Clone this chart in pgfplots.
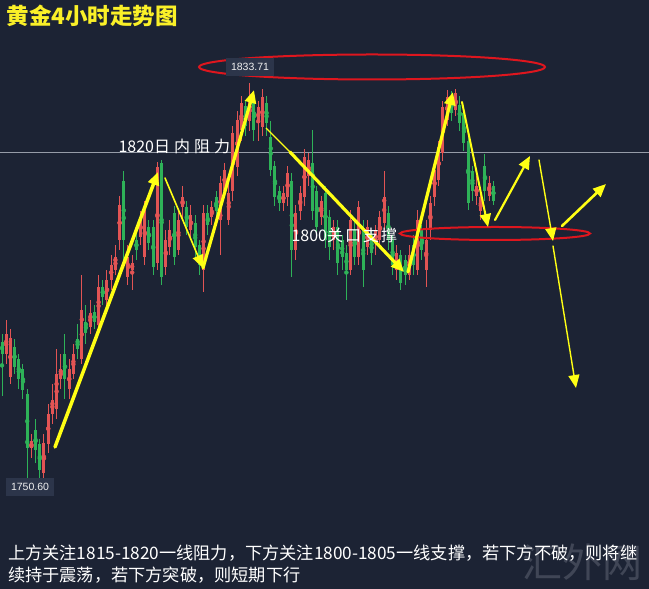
\documentclass[border=0pt]{standalone}
\usepackage{fontspec}
\setmainfont{Noto Sans CJK SC}
\newfontfamily\latin{Liberation Sans}
\usepackage{pgfplots}
\usepackage{pgfplotstable}
\pgfplotsset{compat=1.18}
\usetikzlibrary{arrows.meta}

\definecolor{bg}{RGB}{28,35,52}
\definecolor{upc}{RGB}{226,84,84}
\definecolor{dnc}{RGB}{46,178,88}
\definecolor{ylw}{RGB}{255,255,20}
\definecolor{ttl}{RGB}{250,240,40}
\definecolor{ring}{RGB}{222,22,30}
\definecolor{hline}{RGB}{150,156,168}
\definecolor{lbl}{RGB}{44,53,74}
\definecolor{wm}{RGB}{64,70,86}

% 4h candles: index, open, high, low, close
\pgfplotstableread{
i o h l c
0 1781.5 1783 1770.5 1779
1 1779 1786 1777 1783
2 1774.5 1784 1773 1782.3
3 1780.5 1782 1775 1776.5
4 1778 1779 1772 1774
5 1776 1777 1770 1771.8
6 1771 1772 1750.6 1760
7 1760 1763 1758 1761.5
8 1763.7 1766 1757 1759.7
9 1761 1762 1754 1755.6
10 1755 1763 1753.6 1761
11 1761 1769 1759 1767
12 1767 1773 1765 1769.8
13 1768 1780 1766 1775
14 1774 1779 1772 1776
15 1779 1783 1770 1774
16 1772 1778 1770 1776
17 1775 1781 1774 1779
18 1782 1785 1778 1780
19 1778 1795 1777 1788
20 1785.5 1789 1781 1783.2
21 1784.5 1790 1783 1787.3
22 1787.5 1789 1784 1785.5
23 1785 1795 1784 1792.5
24 1792.5 1794 1789 1790.5
25 1790 1796 1788 1794
26 1794 1799 1792 1797
27 1796 1801 1795 1798.6
28 1802 1811 1800 1809
29 1814 1816 1797 1802
30 1794.6 1801 1793 1798.6
31 1796 1799 1792 1797.4
32 1802 1804 1798 1800
33 1802.6 1808 1801 1806.7
34 1798.6 1810 1797 1808
35 1804.7 1806 1800 1801.4
36 1804.7 1806 1795 1796.6
37 1797.4 1817.8 1796 1816.8
38 1817.6 1818.2 1793 1794.6
39 1796.6 1804 1795 1802
40 1800.6 1806 1799 1804
41 1807.5 1809 1797 1798.6
42 1800 1808 1799 1806
43 1808.7 1813 1806 1810.7
44 1808.7 1810 1803 1804.7
45 1804 1809 1802 1807
46 1805.5 1807 1798 1800.6
47 1801 1802 1795 1797
48 1796 1809 1791.6 1807.5
49 1807.5 1809 1803 1805
50 1806.7 1810 1805 1808.7
51 1810.7 1812 1806 1808
52 1806 1815 1799 1813.5
53 1812 1817.5 1811 1816.2
54 1806 1814 1805 1811.5
55 1812 1825 1810 1823.6
56 1816.8 1828 1815 1826.2
57 1824.2 1831 1822 1829.7
58 1829 1830 1823 1825
59 1826 1833.71 1824 1830.3
60 1830.9 1832 1822 1824.2
61 1825.6 1830 1822 1828.9
62 1824.8 1832.5 1823 1830.9
63 1829.7 1831 1823 1825.6
64 1822.8 1826 1815 1816.2
65 1817 1818 1809 1810.7
66 1812 1813 1808 1809.5
67 1809.5 1813 1808 1811.5
68 1810.7 1817 1809 1815.5
69 1814 1815.5 1794.5 1800
70 1800 1809 1798 1807.5
71 1808 1813 1806 1811.5
72 1810.7 1820.5 1809 1818.8
73 1815 1819.5 1813 1818.2
74 1817.6 1824.2 1806 1808
75 1812 1813 1803 1804.7
76 1806.7 1811 1805 1810
77 1811.5 1813 1800.5 1802
78 1806.7 1808 1798 1800.6
79 1802 1806 1800 1804.7
80 1804.7 1806 1795 1797.4
81 1802 1803 1796 1798.6
82 1799.4 1801 1790 1796
83 1796 1808 1795 1806
84 1804 1806 1797 1798.6
85 1798.6 1810 1797 1808.7
86 1804 1806 1792.6 1796
87 1800.6 1806 1799 1804.7
88 1803 1804 1797 1799.4
89 1801.4 1805 1799 1804
90 1802 1808 1801 1806.7
91 1805.5 1816 1804 1810.7
92 1807.5 1809 1800 1802
93 1802 1803 1795 1797
94 1795.9 1801 1794 1799.4
95 1799 1800 1792 1793.4
96 1798 1799 1793 1795
97 1795 1801 1794 1799
98 1801 1803 1795 1797
99 1796 1808 1795 1806
100 1804 1805 1798 1800
101 1796 1806 1792.6 1802
102 1804 1811 1802 1809.5
103 1810.7 1818 1809 1816.2
104 1814.1 1822 1813 1820.8
105 1819.6 1830 1818 1828.9
106 1826.2 1832.3 1825 1830.9
107 1831 1832 1826 1827.7
108 1828.3 1832.5 1827 1831.7
109 1829.3 1831 1824 1825.6
110 1827.6 1828 1820 1821.6
111 1822 1824 1808 1809.5
112 1816 1817 1810 1812
113 1811 1815 1809 1813
114 1808 1812 1806 1810.7
115 1817 1819.4 1810 1812
116 1811 1815 1810 1813.5
117 1813 1814 1809 1810
}\candles

\tikzset{
  ya/.style={draw=ylw, line width=#1, line cap=round,
    -{Triangle[length=13pt,width=11pt]}},
  lab/.style={text=white, font=\fontsize{16}{16}\selectfont},
  pricebox/.style={fill=lbl, text=white!88!gray,
    font=\latin\fontsize{10.5}{11}\selectfont, inner xsep=5pt, inner ysep=5pt},
}
\pgfplotsset{
  candle/.style 2 args={#1, mark=none, only marks, forget plot,
    error bars/.cd, y dir=both, y explicit, error mark=none,
    error bar style={draw=#1, line width=#2}},
}

\begin{document}
\begin{tikzpicture}
\fill[bg] (0,0) rectangle (649pt,589pt);
\begin{axis}[
  at={(0,0)}, anchor=south west,
  width=649pt, height=589pt, scale only axis,
  hide axis, clip=true,
  xmin=-0.476, xmax=154.05,
  ymin=1731.65, ymax=1850.45,
]
  \draw[hline, line width=0.9pt] (axis cs:-1,1819.6) -- (axis cs:160,1819.6);
  % wicks
  \addplot[candle={upc}{1pt}]
    table[x expr={\thisrow{c}>\thisrow{o} ? \thisrow{i} : nan},
          y expr={(\thisrow{h}+\thisrow{l})/2},
          y error expr={(\thisrow{h}-\thisrow{l})/2}] {\candles};
  \addplot[candle={dnc}{1pt}]
    table[x expr={\thisrow{c}<\thisrow{o} ? \thisrow{i} : nan},
          y expr={(\thisrow{h}+\thisrow{l})/2},
          y error expr={(\thisrow{h}-\thisrow{l})/2}] {\candles};
  % bodies
  \addplot[candle={upc}{3pt}]
    table[x expr={\thisrow{c}>\thisrow{o} ? \thisrow{i} : nan},
          y expr={(\thisrow{o}+\thisrow{c})/2},
          y error expr={abs(\thisrow{c}-\thisrow{o})/2}] {\candles};
  \addplot[candle={dnc}{3pt}]
    table[x expr={\thisrow{c}<\thisrow{o} ? \thisrow{i} : nan},
          y expr={(\thisrow{o}+\thisrow{c})/2},
          y error expr={abs(\thisrow{c}-\thisrow{o})/2}] {\candles};
\end{axis}

% annotations in pixel coordinates of the screenshot
\begin{scope}[shift={(0,589pt)}, x=1pt, y=-1pt]
  \node[text=wm, font=\fontsize{40}{40}\selectfont] at (582,562) {汇外网};

  \draw[ring, line width=2pt] (372,67) ellipse [x radius=173, y radius=12.5];
  \draw[ring, line width=2pt] (495,233.5) ellipse [x radius=95, y radius=6.5];

  \node[pricebox] at (250,67) {1833.71};
  \node[pricebox] at (30,487) {1750.60};

  \draw[ya=3.5pt] (55,447) -- (158,172);
  \draw[ya=1.6pt] (165,178) -- (203,268);
  \draw[ya=3.2pt] (203,268) -- (254,90);
  \draw[draw=ylw, line width=1.2pt] (266,128) -- (291,153);
  \draw[ya=3.2pt] (290,152) -- (404,272);
  \draw[ya=3.2pt] (408,272) -- (453,92);
  \draw[ya=2pt] (462,102) -- (488,227);
  \draw[ya=2.2pt] (495,220) -- (530,156);
  \draw[ya=1.4pt] (539,160) -- (553,241);
  \draw[ya=2.6pt] (562,226) -- (606,184);
  \draw[ya=1.4pt] (553,246) -- (576,388);

  \node[lab, anchor=west] at (115,146) {1820日\hspace{4pt}内\hspace{4pt}阻\hspace{4pt}力};
  \node[lab, anchor=west] at (288,235) {1800关\hspace{2pt}口\hspace{2pt}支\hspace{2pt}撑};

  \node[anchor=west, text=ttl, font=\fontsize{22.5}{22}\selectfont\bfseries]
    at (3,16) {黄金4小时走势图};

  \node[anchor=west, text=white, font=\fontsize{17.2}{20}\selectfont, inner sep=0pt]
    at (8,553) {上方关注1815-1820一线阻力，下方关注1800-1805一线支撑，若下方不破，则将继};
  \node[anchor=west, text=white, font=\fontsize{17.2}{20}\selectfont, inner sep=0pt]
    at (8,575) {续持于震荡，若下方突破，则短期下行};
\end{scope}
\end{tikzpicture}
\end{document}
